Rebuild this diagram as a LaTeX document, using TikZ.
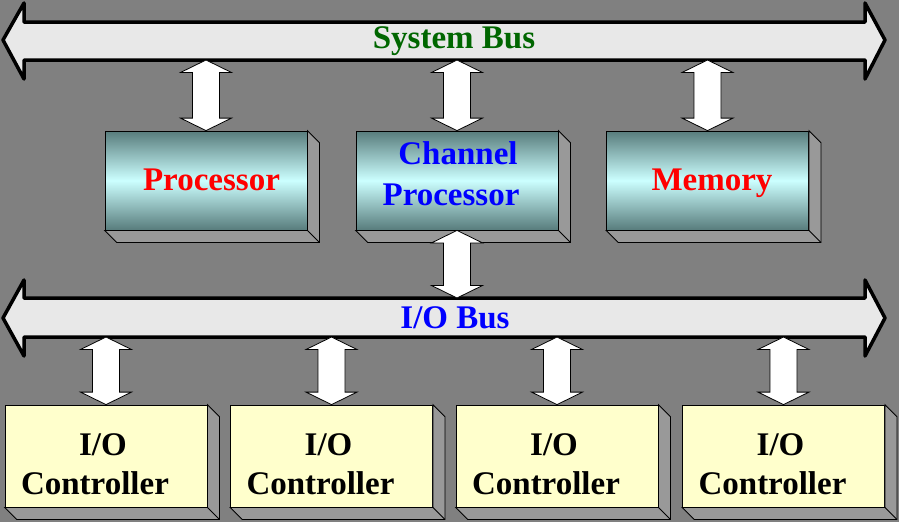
\documentclass[tikz,border=0pt]{standalone}
\usepackage{fontspec}
\setmainfont{Liberation Serif}
\usetikzlibrary{calc}
\definecolor{bgray}{HTML}{808080}
\definecolor{busfill}{HTML}{E8E8E8}
\definecolor{busgreen}{HTML}{006600}
\definecolor{tealdark}{HTML}{587C7C}
\definecolor{cyanlight}{HTML}{CCFFFF}
\definecolor{sidegray}{HTML}{999999}
\definecolor{ctrlfill}{HTML}{FFFFCC}
\newcommand\depthbox[1]{%
  \filldraw[sideface] (#1.north east) -- ($(#1.north east)+(12,12)$) -- ($(#1.south east)+(12,12)$) -- ($(#1.south west)+(12,12)$) -- (#1.south west) -- (#1.south east) -- cycle;
  \draw[edge] (#1.south east) -- ($(#1.south east)+(12,12)$);}
\newcommand\blockarr[2]{%
  \draw[blockarrow] (#1) -- ($(#1)+(25.5,12.5)$) -- ($(#1)+(13.5,12.5)$) -- ($(#2)+(13.5,-12.5)$) -- ($(#2)+(25.5,-12.5)$) -- (#2) -- ($(#2)+(-25.5,-12.5)$) -- ($(#2)+(-13.5,-12.5)$) -- ($(#1)+(-13.5,12.5)$) -- ($(#1)+(-25.5,12.5)$) -- cycle;}
\begin{document}
\begin{tikzpicture}[x=1pt,y=-1pt,
  busline/.style={draw=black, line width=3.5pt, line join=round, fill=busfill},
  edge/.style={draw=black, line width=0.8pt},
  sideface/.style={edge, fill=sidegray},
  blockarrow/.style={edge, fill=white, line join=miter},
  cpubox/.style={edge, minimum width=202pt, minimum height=99pt, inner sep=0pt,
    top color=tealdark, bottom color=tealdark, middle color=cyanlight},
  ctrlbox/.style={edge, fill=ctrlfill, minimum width=202pt, minimum height=102pt, inner sep=0pt},
  lbl/.style={font=\fontsize{33}{39}\selectfont\bfseries, inner sep=0pt, anchor=base}]
\fill[bgray] (0,0) rectangle (899,522);
\useasboundingbox (0,0) rectangle (899,522);
% System bus
\draw[busline] (3,40) -- (24,3) -- (24,22) -- (865,22) -- (865,3) -- (885,40) -- (865,79) -- (865,60) -- (24,60) -- (24,79) -- cycle;
\node[lbl, text=busgreen] (sysbus) at (454,48) {System Bus};
\coordinate (sysbot) at (454,60);
% I/O bus
\draw[busline] (3,318) -- (24,280) -- (24,298) -- (865,298) -- (865,280) -- (885,318) -- (865,356) -- (865,337) -- (24,337) -- (24,356) -- cycle;
\node[lbl, text=blue] (iobus) at (455,328) {I/O Bus};
\coordinate (iotop) at (454,298);
\coordinate (iobot) at (454,337);
% CPU-level boxes
\node[cpubox] (proc) at (206,180.5) {};
\node[cpubox] (chan) at (457,180.5) {};
\node[cpubox] (mem) at (707.5,180.5) {};
\depthbox{proc}
\depthbox{chan}
\depthbox{mem}
\node[lbl, text=red] (proct) at ($(proc.center)+(5.5,9.5)$) {Processor};
\node[lbl, text=blue] (chant1) at ($(chan.center)+(1,-16.5)$) {Channel};
\node[lbl, text=blue] (chant2) at ($(chan.center)+(-6,24.5)$) {Processor};
\node[lbl, text=red] (memt) at ($(mem.center)+(4.5,9.5)$) {Memory};
% I/O controllers
\foreach \i/\x in {1/106,2/331.5,3/557,4/783.5}{
  \node[ctrlbox] (c\i) at (\x,456) {};
  \depthbox{c\i}
  \node[lbl] (c\i a) at ($(c\i.center)+(-3,-1)$) {I/O};
  \node[lbl] (c\i b) at ($(c\i.center)+(-11,38)$) {Controller};
}
% block arrows
\coordinate (sp) at (proc.north |- sysbot);
\coordinate (sc) at (chan.north |- sysbot);
\coordinate (sm) at (mem.north |- sysbot);
\coordinate (ci) at (chan.south |- iotop);
\blockarr{sp}{proc.north}
\blockarr{sc}{chan.north}
\blockarr{sm}{mem.north}
\blockarr{chan.south}{ci}
\foreach \i in {1,2,3,4}{
  \coordinate (b\i) at (c\i.north |- iobot);
  \blockarr{b\i}{c\i.north}
}
\end{tikzpicture}
\end{document}
